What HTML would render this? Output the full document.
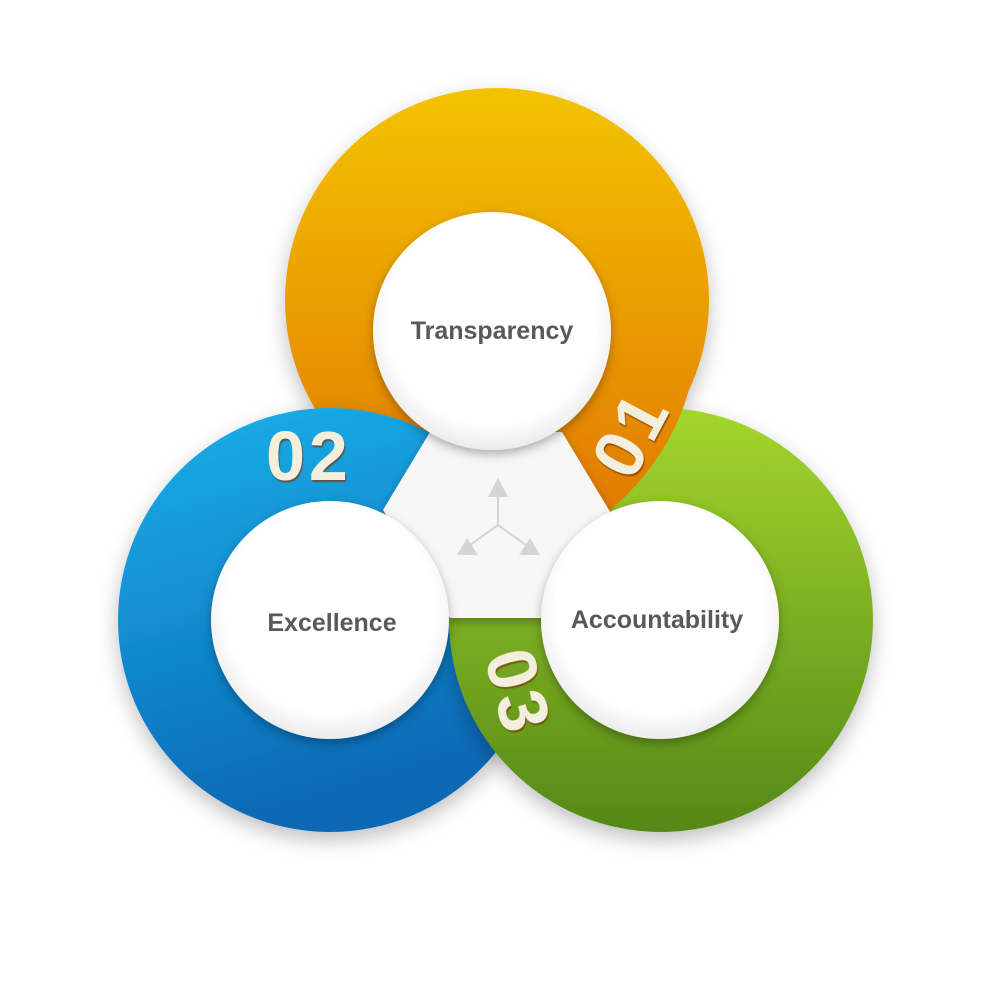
<!DOCTYPE html>
<html><head><style>body{margin:0;background:#fff}svg{display:block}</style></head><body>
<svg width="1000" height="1000" viewBox="0 0 1000 1000" xmlns="http://www.w3.org/2000/svg">
<defs>
<linearGradient id="go" gradientUnits="userSpaceOnUse" x1="0" y1="88" x2="0" y2="512"><stop offset="0" stop-color="#f3c300"/><stop offset="1" stop-color="#e27a02"/></linearGradient>
<linearGradient id="gb" x1="0" y1="0" x2="0.3" y2="1"><stop offset="0" stop-color="#1cb2ea"/><stop offset="1" stop-color="#0867b5"/></linearGradient>
<linearGradient id="gg" x1="0" y1="0" x2="0" y2="1"><stop offset="0" stop-color="#a3d62c"/><stop offset="1" stop-color="#558818"/></linearGradient>
<radialGradient id="gw" cx="0.5" cy="0.45" r="0.55"><stop offset="0.8" stop-color="#fff"/><stop offset="1" stop-color="#ececec"/></radialGradient>
<filter id="sh" x="-20%" y="-20%" width="140%" height="140%"><feDropShadow dx="0" dy="8" stdDeviation="10" flood-color="#000" flood-opacity="0.25"/></filter>
<filter id="sh2" x="-20%" y="-20%" width="140%" height="140%"><feDropShadow dx="0" dy="4" stdDeviation="5" flood-color="#000" flood-opacity="0.3"/></filter>
<filter id="ts"><feDropShadow dx="1" dy="2" stdDeviation="0.5" flood-color="#7a3000" flood-opacity="0.7"/></filter>
</defs>
<circle cx="497" cy="300" r="212" fill="url(#go)" filter="url(#sh)"/>
<circle cx="330" cy="620" r="212" fill="url(#gb)" filter="url(#sh)"/>
<circle cx="661" cy="620" r="212" fill="url(#gg)" filter="url(#sh)"/>
<path d="M555 425 L608 512 Q668 462 689 390 A212 212 0 0 0 708 318 L600 340 Z" fill="url(#go)"/>
<polygon points="430,432 562,432 612,515 600,618 450,618 383,510" fill="#f7f7f7" filter="url(#sh2)"/>
<g fill="#d3d4d6" stroke="#d3d4d6" stroke-width="2">
<line x1="498" y1="525" x2="498" y2="492"/><line x1="498" y1="525" x2="470" y2="545"/><line x1="498" y1="525" x2="526" y2="545"/>
<polygon points="498,478 488,497 508,497" stroke="none"/>
<polygon points="457,555 478,555 467,538" stroke="none"/>
<polygon points="540,555 519,555 530,538" stroke="none"/>
</g>
<g fill="#f4efdc" font-family="'Liberation Sans',sans-serif" font-weight="bold" font-size="70" filter="url(#ts)">
<text x="266" y="480" letter-spacing="4">02</text>
<text transform="translate(652,445) rotate(-62)" text-anchor="middle" letter-spacing="4">01</text>
<text transform="translate(495,698) rotate(75)" text-anchor="middle" letter-spacing="4">03</text>
</g>
<circle cx="492" cy="331" r="119" fill="url(#gw)" filter="url(#sh2)"/>
<circle cx="330" cy="620" r="119" fill="url(#gw)" filter="url(#sh2)"/>
<circle cx="660" cy="620" r="119" fill="url(#gw)" filter="url(#sh2)"/>
<g fill="#58595b" font-family="'Liberation Sans',sans-serif" font-weight="bold" font-size="25" text-anchor="middle">
<text x="492" y="339">Transparency</text>
<text x="332" y="631">Excellence</text>
<text x="657" y="628">Accountability</text>
</g>
</svg>
</body></html>
